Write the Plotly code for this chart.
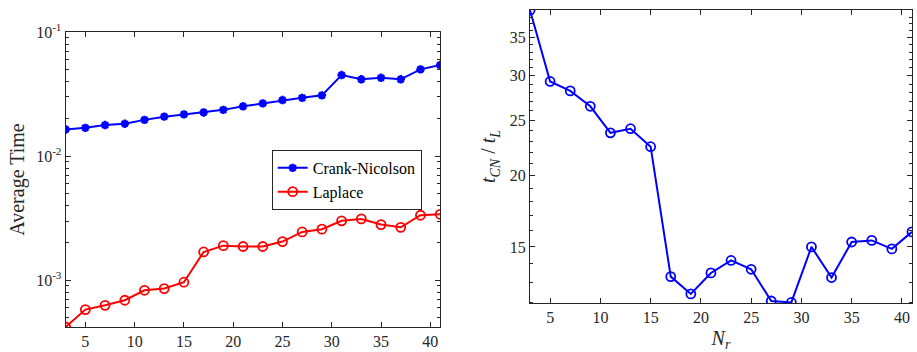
import plotly.graph_objects as go
import math

Nr = [3, 5, 7, 9, 11, 13, 15, 17, 19, 21, 23, 25, 27, 29, 31, 33, 35, 37, 39, 41]
t_cn = [0.0164, 0.0169, 0.0178, 0.01824, 0.0196, 0.0208, 0.0217, 0.0225, 0.0236, 0.0252,
        0.0266, 0.0283, 0.0295, 0.0309, 0.0450, 0.0416, 0.0428, 0.0416, 0.0500, 0.0542]
t_lap = [4.20e-4, 5.80e-4, 6.28e-4, 6.90e-4, 8.30e-4, 8.57e-4, 9.64e-4, 1.69e-3, 1.90e-3, 1.87e-3,
         1.87e-3, 2.05e-3, 2.45e-3, 2.58e-3, 3.01e-3, 3.12e-3, 2.81e-3, 2.67e-3, 3.34e-3, 3.40e-3]
ratio = [39.1, 29.3, 28.2, 26.5, 23.8, 24.2, 22.5, 13.3, 12.4, 13.5,
         14.2, 13.7, 12.05, 11.98, 15.0, 13.25, 15.3, 15.4, 14.88, 15.94]

x_ticks = [5, 10, 15, 20, 25, 30, 35, 40]
left_y_ticks = [1e-3, 1e-2, 1e-1]
left_y_labels = ["10<sup>-3</sup>", "10<sup>-2</sup>", "10<sup>-1</sup>"]
right_y_ticks = [15, 20, 25, 30, 35]

FONT = "Liberation Serif"
AX = "#262626"

fig = go.Figure()

fig.add_trace(go.Scatter(x=Nr, y=t_cn, mode="lines+markers", name="Crank-Nicolson",
                         line=dict(color="rgb(0,0,255)", width=2),
                         marker=dict(symbol="asterisk-open", size=7, color="rgb(0,0,255)",
                                     line=dict(color="rgb(0,0,255)", width=2.5)),
                         xaxis="x", yaxis="y"))
fig.add_trace(go.Scatter(x=Nr, y=t_lap, mode="lines+markers", name="Laplace",
                         line=dict(color="rgb(255,0,0)", width=2),
                         marker=dict(symbol="circle-open", size=9, color="rgb(255,0,0)",
                                     line=dict(color="rgb(255,0,0)", width=1.8)),
                         xaxis="x", yaxis="y"))
fig.add_trace(go.Scatter(x=Nr, y=ratio, mode="lines+markers", showlegend=False,
                         line=dict(color="rgb(0,0,255)", width=2),
                         marker=dict(symbol="circle-open", size=9, color="rgb(0,0,255)",
                                     line=dict(color="rgb(0,0,255)", width=1.8)),
                         xaxis="x2", yaxis="y2"))

left_minor = [m * 10 ** e for e in (-4, -3, -2) for m in range(2, 10)]
right_minor = [v for v in range(12, 40) if v % 5 != 0]

common = dict(showline=True, linecolor=AX, linewidth=1, mirror="allticks", ticks="inside",
              tickcolor=AX, ticklen=5, showgrid=False, zeroline=False, automargin=False,
              tickfont=dict(family=FONT, size=16, color=AX))

fig.update_layout(
    width=917, height=352, margin=dict(l=0, r=0, t=0, b=0, autoexpand=False),
    paper_bgcolor="white", plot_bgcolor="white",
    font=dict(family=FONT, color=AX),
    xaxis=dict(domain=[0.0716, 0.480], range=[3, 41], tickvals=x_ticks, anchor="y", **common),
    yaxis=dict(domain=[0.071, 0.909], type="log",
               range=[math.log10(4.2e-4), -1], tickvals=left_y_ticks, ticktext=left_y_labels,
               anchor="x",
               title=dict(text="Average Time", font=dict(family=FONT, size=20, color=AX), standoff=6),
               minor=dict(tickvals=left_minor, ticks="inside", ticklen=3, tickcolor=AX),
               **common),
    xaxis2=dict(domain=[0.578, 0.9945], range=[3, 41], tickvals=x_ticks, anchor="y2",
                title=dict(text="<i>N<sub>r</sub></i>", font=dict(family=FONT, size=20, color=AX), standoff=13),
                **common),
    yaxis2=dict(domain=[0.139, 0.972], type="log",
                range=[math.log10(11.95), math.log10(39.15)], tickvals=right_y_ticks, anchor="x2",
                title=dict(text="<i>t<sub>CN</sub></i> / <i>t<sub>L</sub></i>",
                           font=dict(family=FONT, size=20, color=AX), standoff=8),
                minor=dict(tickvals=right_minor, ticks="inside", ticklen=3, tickcolor=AX),
                **common),
    legend=dict(x=0.2963, y=0.574, xanchor="left", yanchor="top",
                bordercolor=AX, borderwidth=1, bgcolor="white",
                font=dict(family=FONT, size=16, color="black"),
                tracegroupgap=0, itemwidth=30),
)

fig.write_html("out.html")
